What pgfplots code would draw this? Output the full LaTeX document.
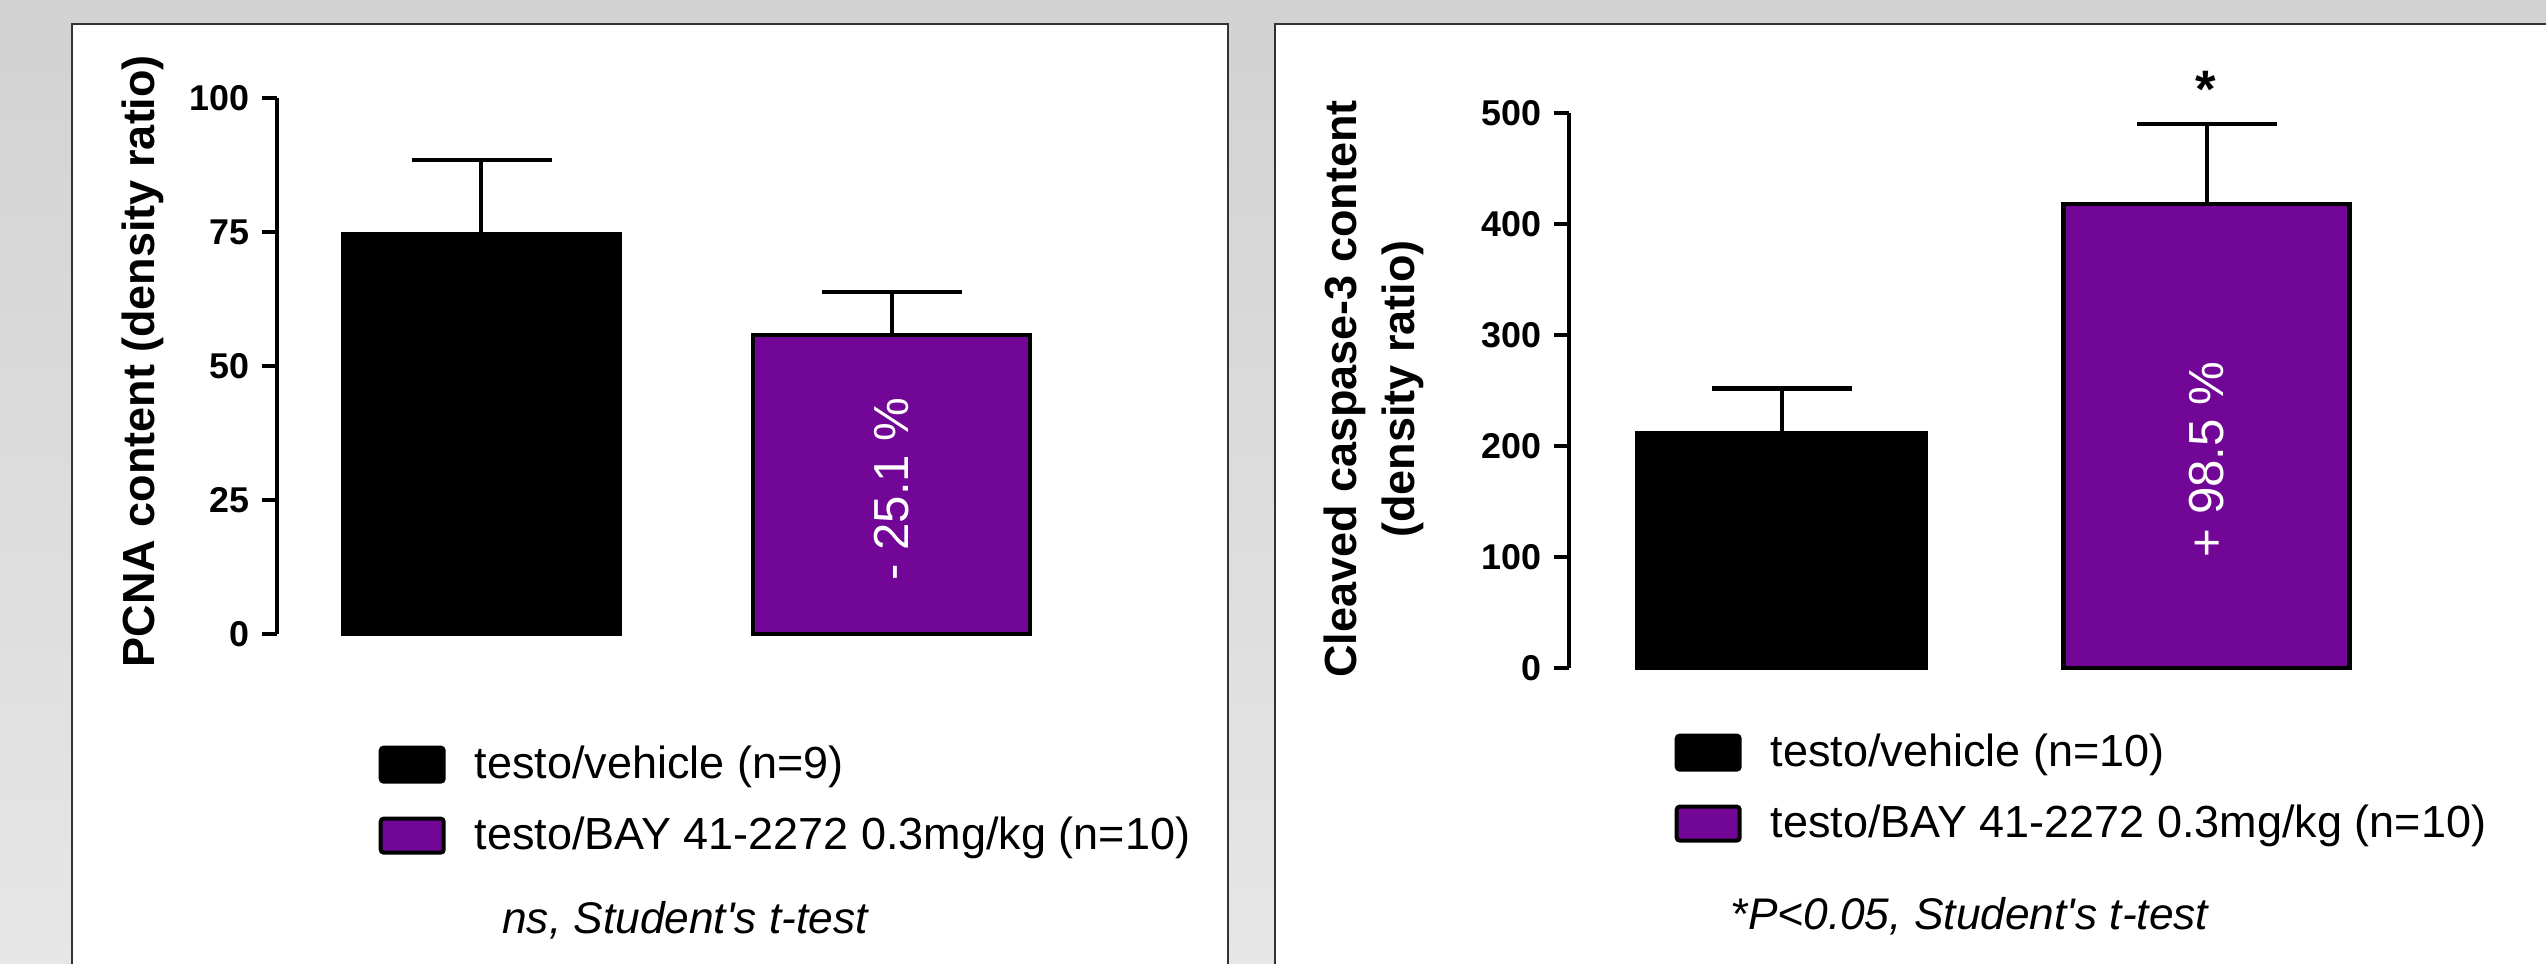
\documentclass[border=0pt]{standalone}
\usepackage{pgfplots}
\pgfplotsset{compat=1.18}
\usepackage{fontspec}
\setmainfont{Liberation Sans}
\definecolor{barpurple}{HTML}{720696}
\definecolor{bgtop}{HTML}{D2D2D2}
\definecolor{bgbot}{HTML}{E6E6E6}
\definecolor{frame}{HTML}{333333}
\pgfplotsset{
  mystyle/.style={
    scale only axis, clip=false,
    axis x line=none, axis y line=left,
    axis line style={-, line width=0.33mm, black},
    tick align=outside, major tick length=1.5mm,
    tick style={line width=0.33mm, black},
    /pgf/number format/assume math mode=true,
    yticklabel style={font=\fontsize{10.2}{12}\selectfont\bfseries, inner sep=0pt, xshift=-1.2mm},
    ylabel style={font=\fontsize{12.8}{16.4}\selectfont\bfseries, anchor=center, align=center},
    legend style={draw=none, fill=none, inner sep=0pt, anchor=north west,
      font=\fontsize{12.8}{15}\selectfont, row sep=3.3mm,
      nodes={inner sep=0pt},
      /tikz/every odd column/.append style={column sep=2.9mm}},
    legend cell align=left,
  },
  mybar/.style={ybar, bar shift=0pt, line width=0.45mm, draw=black,
    error bars/y dir=plus, error bars/y explicit,
    error bars/error mark=|,
    error bars/error bar style={line width=0.4mm, black},
    error bars/error mark options={line width=0.45mm, black, mark size=7mm}},
  mylegend/.style={legend image code/.code={
    \filldraw[line width=0.4mm, rounded corners=0.3mm] (0mm,-1.7mm) rectangle (6.3mm,1.7mm);}},
}
\begin{document}
\begin{tikzpicture}[x=0.1mm,y=-0.1mm]
\begin{scope}
\clip (0,0) rectangle (2546,964);
\shade[top color=bgtop,bottom color=bgbot] (0,0) rectangle (2546,964);
\filldraw[fill=white,draw=frame,line width=0.2mm] (72,24) rectangle (1228,1000);
\filldraw[fill=white,draw=frame,line width=0.2mm] (1275,24) rectangle (2600,1000);
\end{scope}

% Left panel
\begin{axis}[mystyle, at={(27.7mm,-63.4mm)}, anchor=south west,
  width=87.3mm, height=53.6mm, xmin=277, xmax=1150, ymin=0, ymax=100,
  ytick={0,25,50,75,100},
  ylabel={PCNA content (density ratio)},
  ylabel style={at={(axis description cs:-0.1535,0.509)}},
  legend style={at={(axis description cs:0.1157,-0.207)}}]
\addplot[mybar, bar width=277, fill=black, mylegend] coordinates {(481.5,74.6) +- (0,13.8)};
\addlegendentry{testo/vehicle (n=9)}
\addplot[mybar, bar width=277, fill=barpurple, mylegend] coordinates {(891.5,55.8) +- (0,8.0)};
\addlegendentry{testo/BAY 41-2272 0.3mg/kg (n=10)}
\node[rotate=90, text=white, font=\fontsize{14}{16}\selectfont] at (axis cs:891.5,27.05) {- 25.1 \%};
\end{axis}

% Right panel
\begin{axis}[mystyle, at={(156.9mm,-66.8mm)}, anchor=south west,
  width=93.1mm, height=55.5mm, xmin=1569, xmax=2500, ymin=0, ymax=500,
  ytick={0,100,200,300,400,500},
  ylabel={Cleaved caspase-3 content\\(density ratio)},
  ylabel style={at={(axis description cs:-0.2095,0.503)}},
  legend style={at={(axis description cs:0.1128,-0.117)}}]
\addplot[mybar, bar width=289, fill=black, mylegend] coordinates {(1781.5,211.5) +- (0,40.5)};
\addlegendentry{testo/vehicle (n=10)}
\addplot[mybar, bar width=286, fill=barpurple, mylegend] coordinates {(2206.5,418) +- (0,72)};
\addlegendentry{testo/BAY 41-2272 0.3mg/kg (n=10)}
\node[rotate=90, text=white, font=\fontsize{14}{16}\selectfont] at (axis cs:2206.5,188) {+ 98.5 \%};
\node[anchor=north, inner sep=0pt, font=\fontsize{15}{16}\selectfont\bfseries] at (axis cs:2206,538) {*};
\end{axis}

\node[anchor=base, font=\fontsize{12.6}{15}\selectfont\itshape] at (685,933) {ns, Student\textquotesingle s t-test};
\node[anchor=base, font=\fontsize{12.6}{15}\selectfont\itshape] at (1969.5,930) {*P<0.05, Student\textquotesingle s t-test};

\pgfresetboundingbox
\useasboundingbox (0,0) rectangle (2546,964);
\end{tikzpicture}
\end{document}
